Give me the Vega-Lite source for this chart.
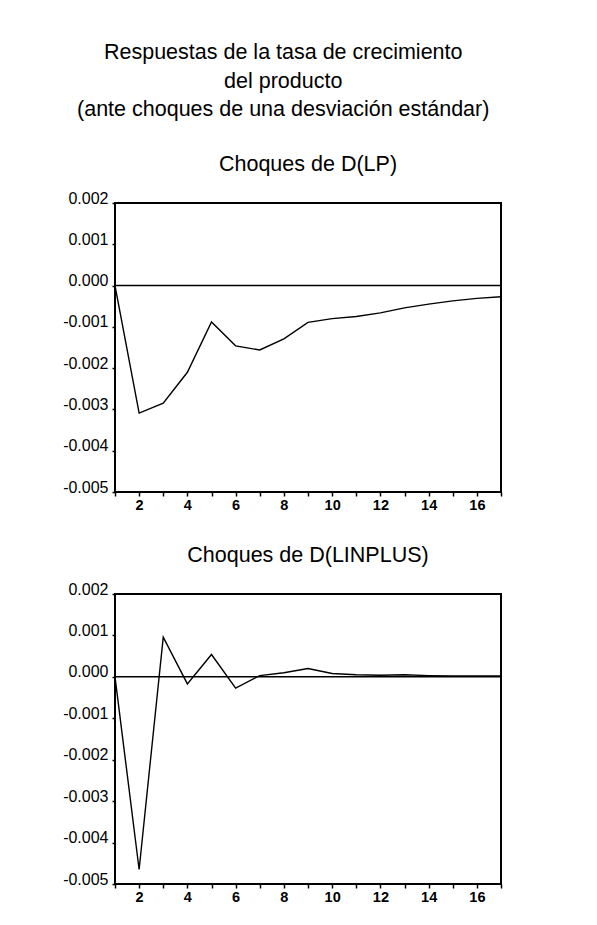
{
  "$schema": "https://vega.github.io/schema/vega-lite/v6.json",
  "background": "white",
  "padding": {"left": 61, "top": 42, "right": 10, "bottom": 10},
  "title": {
    "text": ["Respuestas de la tasa de crecimiento", "del producto", "(ante choques de una desviación estándar)"],
    "font": "Liberation Sans",
    "fontSize": 21.5,
    "fontWeight": "normal",
    "lineHeight": 28.5,
    "anchor": "middle",
    "color": "black",
    "offset": 32
  },
  "config": {
    "view": {"stroke": "black", "strokeWidth": 2},
    "font": "Liberation Sans",
    "concat": {"spacing": 30},
    "axis": {
      "grid": false,
      "domain": false,
      "tickColor": "black",
      "tickWidth": 1.5,
      "labelColor": "black",
      "labelFont": "Liberation Sans",
      "title": null
    }
  },
  "datasets": {
    "lp": [
      {"periodo": 1, "respuesta": 0.0},
      {"periodo": 2, "respuesta": -0.00309},
      {"periodo": 3, "respuesta": -0.00285},
      {"periodo": 4, "respuesta": -0.0021},
      {"periodo": 5, "respuesta": -0.00088},
      {"periodo": 6, "respuesta": -0.00146},
      {"periodo": 7, "respuesta": -0.00156},
      {"periodo": 8, "respuesta": -0.00129},
      {"periodo": 9, "respuesta": -0.00089},
      {"periodo": 10, "respuesta": -0.0008},
      {"periodo": 11, "respuesta": -0.00075},
      {"periodo": 12, "respuesta": -0.00066},
      {"periodo": 13, "respuesta": -0.00054},
      {"periodo": 14, "respuesta": -0.00045},
      {"periodo": 15, "respuesta": -0.00037},
      {"periodo": 16, "respuesta": -0.00031},
      {"periodo": 17, "respuesta": -0.00027}
    ],
    "linplus": [
      {"periodo": 1, "respuesta": 0.0},
      {"periodo": 2, "respuesta": -0.00465},
      {"periodo": 3, "respuesta": 0.00096},
      {"periodo": 4, "respuesta": -0.00017},
      {"periodo": 5, "respuesta": 0.00054},
      {"periodo": 6, "respuesta": -0.00027},
      {"periodo": 7, "respuesta": 0.00003},
      {"periodo": 8, "respuesta": 0.0001},
      {"periodo": 9, "respuesta": 0.0002},
      {"periodo": 10, "respuesta": 0.00008},
      {"periodo": 11, "respuesta": 0.00005},
      {"periodo": 12, "respuesta": 0.00004},
      {"periodo": 13, "respuesta": 0.00005},
      {"periodo": 14, "respuesta": 0.00003},
      {"periodo": 15, "respuesta": 0.00002},
      {"periodo": 16, "respuesta": 0.00002},
      {"periodo": 17, "respuesta": 0.00002}
    ]
  },
  "vconcat": [
    {
      "width": 386,
      "height": 289,
      "title": {"text": "Choques de D(LP)", "fontSize": 21.5, "fontWeight": "normal", "color": "black", "anchor": "middle", "offset": 15},
      "layer": [
        {
          "data": {"name": "lp"},
          "mark": {"type": "line", "color": "black", "strokeWidth": 1.4},
          "encoding": {
            "x": {"field": "periodo", "type": "quantitative",
              "scale": {"domain": [1, 17], "nice": false, "zero": false},
              "axis": {"values": [1,2,3,4,5,6,7,8,9,10,11,12,13,14,15,16,17], "labelExpr": "datum.value % 2 == 0 ? datum.label : ''", "tickSize": 4, "labelFontSize": 14.5, "labelFontWeight": "bold", "labelPadding": 2}},
            "y": {"field": "respuesta", "type": "quantitative",
              "scale": {"domain": [-0.005, 0.002], "nice": false, "zero": false},
              "axis": {"values": [-0.005,-0.004,-0.003,-0.002,-0.001,0,0.001,0.002], "labelExpr": "replace(format(datum.value, '.3f'), '\u2212', '-')", "tickSize": 3, "labelFontSize": 16, "labelBaseline": "alphabetic", "labelPadding": 4}}
          }
        },
        {
          "data": {"values": [{"cero": 0}]},
          "mark": {"type": "rule", "color": "black", "strokeWidth": 1.5},
          "encoding": {"y": {"field": "cero", "type": "quantitative"}}
        }
      ]
    },
    {
      "width": 386,
      "height": 290,
      "title": {"text": "Choques de D(LINPLUS)", "fontSize": 21.5, "fontWeight": "normal", "color": "black", "anchor": "middle", "offset": 15},
      "layer": [
        {
          "data": {"name": "linplus"},
          "mark": {"type": "line", "color": "black", "strokeWidth": 1.4},
          "encoding": {
            "x": {"field": "periodo", "type": "quantitative",
              "scale": {"domain": [1, 17], "nice": false, "zero": false},
              "axis": {"values": [1,2,3,4,5,6,7,8,9,10,11,12,13,14,15,16,17], "labelExpr": "datum.value % 2 == 0 ? datum.label : ''", "tickSize": 4, "labelFontSize": 14.5, "labelFontWeight": "bold", "labelPadding": 2}},
            "y": {"field": "respuesta", "type": "quantitative",
              "scale": {"domain": [-0.005, 0.002], "nice": false, "zero": false},
              "axis": {"values": [-0.005,-0.004,-0.003,-0.002,-0.001,0,0.001,0.002], "labelExpr": "replace(format(datum.value, '.3f'), '\u2212', '-')", "tickSize": 3, "labelFontSize": 16, "labelBaseline": "alphabetic", "labelPadding": 4}}
          }
        },
        {
          "data": {"values": [{"cero": 0}]},
          "mark": {"type": "rule", "color": "black", "strokeWidth": 1.5},
          "encoding": {"y": {"field": "cero", "type": "quantitative"}}
        }
      ]
    }
  ]
}
